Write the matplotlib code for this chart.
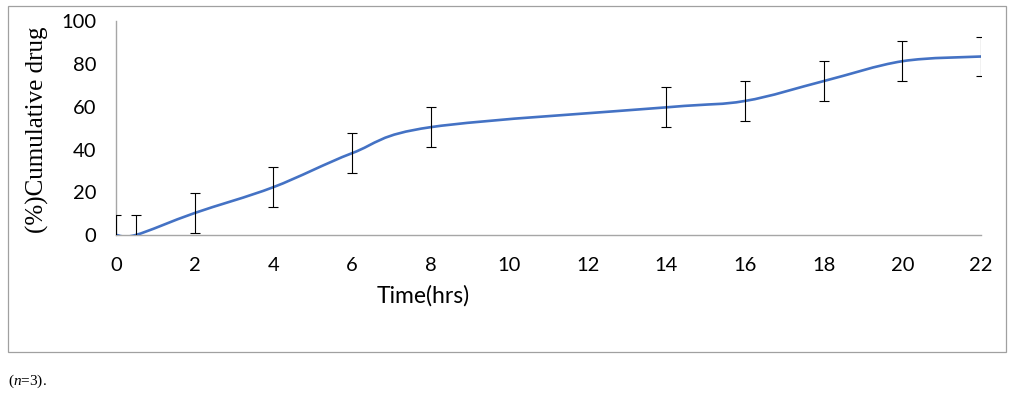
import numpy as np
import matplotlib
matplotlib.use('Agg')
import matplotlib.pyplot as plt
from matplotlib.path import Path
from matplotlib.patches import PathPatch, Rectangle

plt.rcParams['mathtext.fontset'] = 'custom'
plt.rcParams['mathtext.rm'] = 'Liberation Serif'
plt.rcParams['mathtext.it'] = 'Liberation Serif:italic'

# data
time_hrs = [0, 0.5, 2, 4, 6, 8, 14, 16, 18, 20, 22]
release = [0, 0, 10.3, 22.4, 38.3, 50.5, 59.8, 62.8, 72.1, 81.4, 83.6]
err = [9.3, 9.3, 9.3, 9.3, 9.3, 9.3, 9.3, 9.3, 9.3, 9.3, 9.3]
x_ticks = [0, 2, 4, 6, 8, 10, 12, 14, 16, 18, 20, 22]
y_ticks = [0, 20, 40, 60, 80, 100]

fig = plt.figure(figsize=(10.12, 3.95), dpi=100)
ax = fig.add_axes([0.1146, 0.405, 0.9694 - 0.1146, 0.9456 - 0.405])

# smoothed line like excel (bezier through the points)
pts = np.column_stack([time_hrs, release])
n = len(pts)
verts = [pts[0]]
codes = [Path.MOVETO]
for i in range(n - 1):
    p0 = pts[i - 1] if i > 0 else pts[i]
    p1 = pts[i]
    p2 = pts[i + 1]
    p3 = pts[i + 2] if i + 2 < n else pts[i + 1]
    c1 = p1 + (p2 - p0) / 6
    c2 = p2 - (p3 - p1) / 6
    verts += [c1, c2, p2]
    codes += [Path.CURVE4] * 3
ax.add_patch(PathPatch(Path(verts, codes), facecolor='none', edgecolor='#4472C4', lw=1.9, zorder=3))

ax.errorbar(time_hrs, release, yerr=err, fmt='none', ecolor='black', elinewidth=0.8, capsize=3.3, capthick=0.8, zorder=4)

ax.set_xlim(0, 22)
ax.set_ylim(0, 100)
ax.set_xticks(x_ticks)
ax.set_yticks(y_ticks)
ax.tick_params(length=0, labelsize=14.5)
ax.tick_params(axis='x', pad=16)
ax.tick_params(axis='y', pad=14)
for lab in ax.get_xticklabels() + ax.get_yticklabels():
    lab.set_family('Lato')
for s in ['top', 'right']:
    ax.spines[s].set_visible(False)
for s in ['left', 'bottom']:
    ax.spines[s].set_color('#a6a6a6')
    ax.spines[s].set_linewidth(1)

fig.text(0.037, 0.672, '(%)Cumulative drug', rotation=90, ha='center', va='center',
         family='Liberation Serif', fontsize=18)
fig.text(0.418, 0.25, 'Time(hrs)', ha='center', va='center', family='Lato', fontsize=16.5)

fig.patches.append(Rectangle((8 / 1012, 1 - 352 / 395), 998 / 1012, 346 / 395, transform=fig.transFigure,
                             fill=False, edgecolor='#a0a0a0', lw=0.9))

fig.text(0.008, 0.035, r'($\it{n}$=3).', ha='left', va='center', family='Liberation Serif', fontsize=11)

fig.savefig('out.png', dpi=100)
